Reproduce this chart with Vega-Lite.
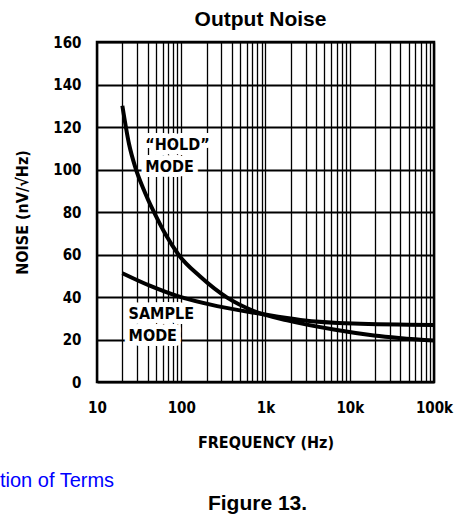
{
  "$schema": "https://vega.github.io/schema/vega-lite/v6.json",
  "width": 337,
  "height": 340,
  "autosize": {"type": "none"},
  "padding": {"left": 97, "top": 42, "right": 21, "bottom": 134},
  "background": "white",
  "title": {
    "text": "Output Noise",
    "font": "Liberation Sans, Arial, sans-serif",
    "fontSize": 21,
    "fontWeight": "bold",
    "color": "#000",
    "anchor": "middle",
    "dx": -5,
    "offset": 5
  },
  "config": {"view": {"stroke": "#000", "strokeWidth": 2.5}},
  "datasets": {
    "curves": [
      {"mode": "HOLD", "freq": 20, "noise": 130},
      {"mode": "HOLD", "freq": 24, "noise": 112},
      {"mode": "HOLD", "freq": 28.5, "noise": 101},
      {"mode": "HOLD", "freq": 35, "noise": 91.5},
      {"mode": "HOLD", "freq": 40.7, "noise": 85.5},
      {"mode": "HOLD", "freq": 46.7, "noise": 80.5},
      {"mode": "HOLD", "freq": 65, "noise": 69.5},
      {"mode": "HOLD", "freq": 92.5, "noise": 60},
      {"mode": "HOLD", "freq": 169, "noise": 49.5},
      {"mode": "HOLD", "freq": 351, "noise": 39.7},
      {"mode": "HOLD", "freq": 726, "noise": 33.4},
      {"mode": "HOLD", "freq": 1811, "noise": 29},
      {"mode": "HOLD", "freq": 6460, "noise": 24.7},
      {"mode": "HOLD", "freq": 19360, "noise": 21.9},
      {"mode": "HOLD", "freq": 100000, "noise": 19.5},
      {"mode": "SAMPLE", "freq": 20, "noise": 51.2},
      {"mode": "SAMPLE", "freq": 43, "noise": 45.2},
      {"mode": "SAMPLE", "freq": 89, "noise": 40.5},
      {"mode": "SAMPLE", "freq": 267, "noise": 35.7},
      {"mode": "SAMPLE", "freq": 870, "noise": 32.1},
      {"mode": "SAMPLE", "freq": 2600, "noise": 29.2},
      {"mode": "SAMPLE", "freq": 11000, "noise": 27.5},
      {"mode": "SAMPLE", "freq": 100000, "noise": 26.8}
    ],
    "notes": [
      {"freq": 37.5, "noise": 111.7, "label": "\u201cHOLD\u201d"},
      {"freq": 37.5, "noise": 101.2, "label": "MODE"},
      {"freq": 23.7, "noise": 32, "label": "SAMPLE"},
      {"freq": 23.7, "noise": 21.6, "label": "MODE"}
    ],
    "footer": [
      {"freq": 0.705, "noise": -49.4, "label": "tion of Terms"},
      {"freq": 804, "noise": -60.2, "label": "Figure 13."}
    ]
  },
  "layer": [
    {
      "data": {"name": "notes"},
      "mark": {
        "type": "text",
        "align": "left",
        "baseline": "middle",
        "font": "DejaVu Sans Condensed, DejaVu Sans, sans-serif",
        "fontSize": 16,
        "fontWeight": "bold",
        "fill": "white",
        "stroke": "white",
        "strokeWidth": 10,
        "strokeJoin": "round"
      },
      "encoding": {
        "x": {
          "field": "freq",
          "type": "quantitative",
          "scale": {"type": "log", "domain": [10, 100000], "nice": false},
          "axis": {
            "title": "FREQUENCY (Hz)",
            "values": [10, 20, 30, 40, 50, 60, 70, 80, 90, 100, 200, 300, 400, 500, 600, 700, 800, 900, 1000, 2000, 3000, 4000, 5000, 6000, 7000, 8000, 9000, 10000, 20000, 30000, 40000, 50000, 60000, 70000, 80000, 90000, 100000],
            "labelExpr": "datum.value == 10 ? '10' : datum.value == 100 ? '100' : datum.value == 1000 ? '1k' : datum.value == 10000 ? '10k' : datum.value == 100000 ? '100k' : ''",
            "grid": true,
            "gridColor": "#000",
            "gridOpacity": 1,
            "gridWidth": 1.3,
            "ticks": false,
            "domain": false,
            "labelFlush": false,
            "labelOverlap": false,
            "labelPadding": 18,
            "labelFont": "DejaVu Sans Condensed, DejaVu Sans, sans-serif",
            "labelFontSize": 15,
            "labelFontWeight": "bold",
            "labelColor": "#000",
            "titleFont": "DejaVu Sans Condensed, DejaVu Sans, sans-serif",
            "titleFontSize": 16,
            "titleFontWeight": "bold",
            "titleColor": "#000",
            "titlePadding": 19
          }
        },
        "y": {
          "field": "noise",
          "type": "quantitative",
          "scale": {"domain": [0, 160], "nice": false, "zero": false},
          "axis": {
            "title": "NOISE (nV/\u221aHz)",
            "values": [0, 20, 40, 60, 80, 100, 120, 140, 160],
            "grid": true,
            "gridColor": "#000",
            "gridOpacity": 1,
            "gridWidth": 1.8,
            "ticks": false,
            "domain": false,
            "labelPadding": 16,
            "labelFont": "DejaVu Sans Condensed, DejaVu Sans, sans-serif",
            "labelFontSize": 15,
            "labelFontWeight": "bold",
            "labelColor": "#000",
            "titleFont": "DejaVu Sans Condensed, DejaVu Sans, sans-serif",
            "titleFontSize": 16,
            "titleFontWeight": "bold",
            "titleColor": "#000",
            "titlePadding": 22
          }
        },
        "text": {"field": "label", "type": "nominal"}
      }
    },
    {
      "data": {"name": "curves"},
      "mark": {"type": "line", "stroke": "#000", "strokeWidth": 4, "interpolate": "monotone"},
      "encoding": {
        "x": {"field": "freq", "type": "quantitative"},
        "y": {"field": "noise", "type": "quantitative"},
        "detail": {"field": "mode", "type": "nominal"}
      }
    },
    {
      "data": {"name": "notes"},
      "mark": {
        "type": "text",
        "align": "left",
        "baseline": "middle",
        "font": "DejaVu Sans Condensed, DejaVu Sans, sans-serif",
        "fontSize": 16,
        "fontWeight": "bold",
        "fill": "#000"
      },
      "encoding": {
        "x": {"field": "freq", "type": "quantitative"},
        "y": {"field": "noise", "type": "quantitative"},
        "text": {"field": "label", "type": "nominal"}
      }
    },
    {
      "data": {"name": "footer"},
      "transform": [{"filter": "datum.label == 'tion of Terms'"}],
      "mark": {
        "type": "text",
        "align": "left",
        "baseline": "alphabetic",
        "font": "Liberation Sans, Arial, sans-serif",
        "fontSize": 20,
        "fill": "#0000FF"
      },
      "encoding": {
        "x": {"field": "freq", "type": "quantitative"},
        "y": {"field": "noise", "type": "quantitative"},
        "text": {"field": "label", "type": "nominal"}
      }
    },
    {
      "data": {"name": "footer"},
      "transform": [{"filter": "datum.label == 'Figure 13.'"}],
      "mark": {
        "type": "text",
        "align": "center",
        "baseline": "alphabetic",
        "font": "Liberation Sans, Arial, sans-serif",
        "fontSize": 21,
        "fontWeight": "bold",
        "fill": "#000"
      },
      "encoding": {
        "x": {"field": "freq", "type": "quantitative"},
        "y": {"field": "noise", "type": "quantitative"},
        "text": {"field": "label", "type": "nominal"}
      }
    }
  ]
}
